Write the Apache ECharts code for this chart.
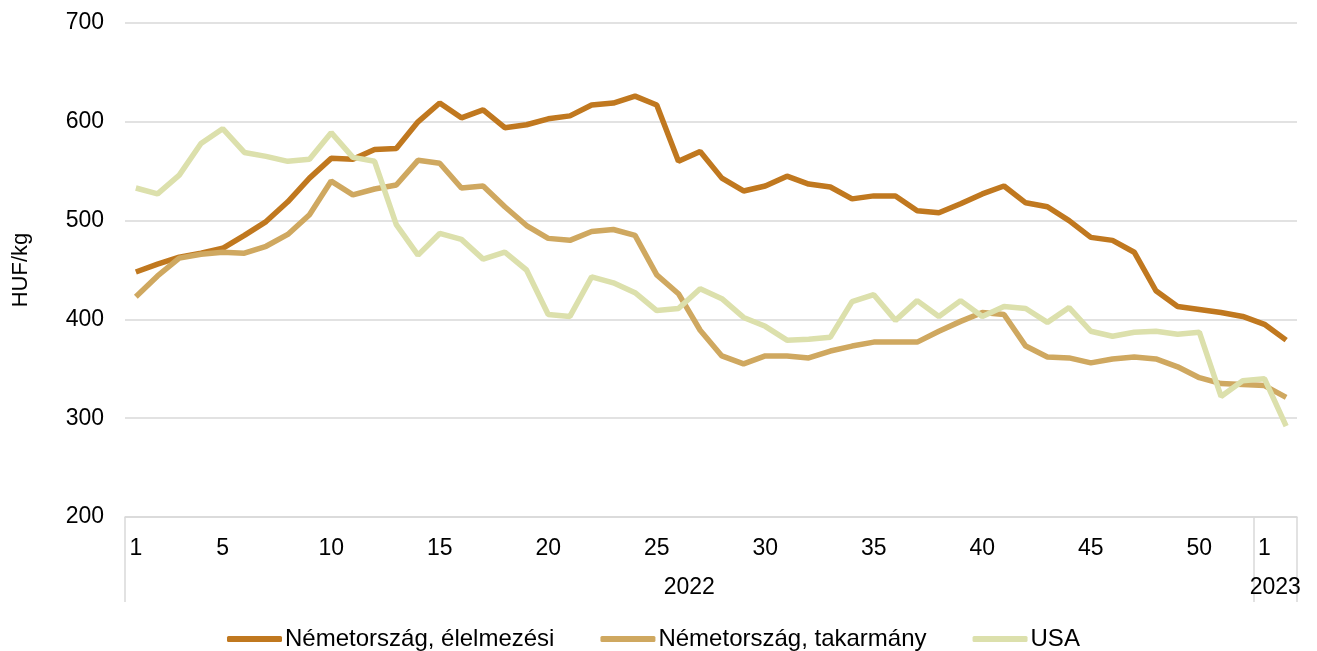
<!DOCTYPE html>
<html>
<head>
<meta charset="utf-8">
<script src="https://cdn.jsdelivr.net/npm/echarts@6/dist/echarts.min.js"></script>
<style>
  html, body { margin: 0; padding: 0; background: #fff; }
  #chart { width: 1317px; height: 651px; }
</style>
</head>
<body>
<div id="chart"></div>
<script>
// weekly categories: 2022 weeks 1-52, then 2023 weeks 1-2
var weeks = [];
for (var w = 1; w <= 52; w++) weeks.push(String(w));
weeks.push('1', '2');

var shownWeekIdx = [0, 4, 9, 14, 19, 24, 29, 34, 39, 44, 49, 52];
var years = ['2022', '2023'];

var elelmezesi = [448, 456, 463, 467, 472, 485, 499, 519, 543, 563,
                  562, 572, 573, 600, 619, 604, 612, 594, 597, 603,
                  606, 617, 619, 626, 617, 560, 570, 543, 530, 535,
                  545, 537, 534, 522, 525, 525, 510, 508, 517, 527,
                  535, 518, 514, 500, 483, 480, 468, 429, 413, 410,
                  407, 403, 395, 379];
var takarmany = [423, 444, 462, 466, 468, 467, 474, 486, 506, 540,
                 526, 532, 536, 561, 558, 533, 535, 514, 495, 482,
                 480, 489, 491, 485, 445, 426, 389, 363, 355, 363,
                 363, 361, 368, 373, 377, 377, 377, 388, 398, 407,
                 405, 373, 362, 361, 356, 360, 362, 360, 352, 341,
                 335, 334, 333, 321];
var usa = [533, 527, 546, 578, 593, 569, 565, 560, 562, 589,
           564, 560, 496, 465, 487, 481, 461, 468, 450, 405,
           403, 443, 437, 427, 409, 411, 431, 421, 402, 393,
           379, 380, 382, 418, 425, 399, 419, 403, 419, 403,
           413, 411, 397, 412, 388, 383, 387, 388, 385, 387,
           322, 338, 340, 292];

var fontFam = '"Liberation Sans", Arial, sans-serif';
var gridCol = '#D9D9D9';
var txtCol = '#000';

var myChart = echarts.init(document.getElementById('chart'));
var option = {
    animation: false,
    color: ['#C0781F', '#CFA860', '#DCE0AC'],
    textStyle: { fontFamily: fontFam },
    grid: { left: 125, right: 20, top: 23, bottom: 134, outerBoundsMode: 'none' },
    legend: {
        top: 622,
        left: 222,
        itemWidth: 55,
        itemHeight: 6,
        itemGap: 46,
        icon: 'roundRect',
        textStyle: { fontSize: 24, color: txtCol, fontFamily: fontFam, padding: [0, 0, 0, -2] },
        data: ['Németország, élelmezési', 'Németország, takarmány', 'USA']
    },
    xAxis: [{
        type: 'category',
        data: weeks,
        boundaryGap: true,
        axisLine: { show: true, lineStyle: { color: gridCol, width: 1.5 } },
        axisTick: { show: false },
        axisLabel: {
            interval: function (idx) { return shownWeekIdx.indexOf(idx) >= 0; },
            fontSize: 23,
            color: txtCol,
            margin: 20
        }
    }, {
        type: 'value',
        min: 0,
        max: weeks.length,
        position: 'bottom',
        axisLine: { show: false },
        splitLine: { show: false },
        axisTick: {
            show: true,
            customValues: [0, 52, weeks.length],
            length: 85,
            lineStyle: { color: gridCol, width: 1.5 }
        },
        axisLabel: {
            customValues: [26, 53],
            formatter: function (v) { return v < 52 ? years[0] : years[1]; },
            fontSize: 23,
            color: txtCol,
            margin: 59
        }
    }],
    yAxis: {
        type: 'value',
        min: 200,
        max: 700,
        interval: 100,
        name: 'HUF/kg',
        nameLocation: 'middle',
        nameRotate: 90,
        nameGap: 93,
        nameTextStyle: { fontSize: 22, color: txtCol },
        axisLine: { show: false },
        axisTick: { show: false },
        axisLabel: { fontSize: 23, color: txtCol, margin: 21 },
        splitLine: { lineStyle: { color: gridCol, width: 1.5 } }
    },
    series: [{
        name: 'Németország, élelmezési',
        type: 'line',
        symbol: 'none',
        lineStyle: { width: 5.5 },
        data: elelmezesi
    }, {
        name: 'Németország, takarmány',
        type: 'line',
        symbol: 'none',
        lineStyle: { width: 5.5 },
        data: takarmany
    }, {
        name: 'USA',
        type: 'line',
        symbol: 'none',
        lineStyle: { width: 5.5 },
        data: usa
    }]
};
if (option && typeof option === "object") {
    myChart.setOption(option, true);
}
</script>
</body>
</html>
